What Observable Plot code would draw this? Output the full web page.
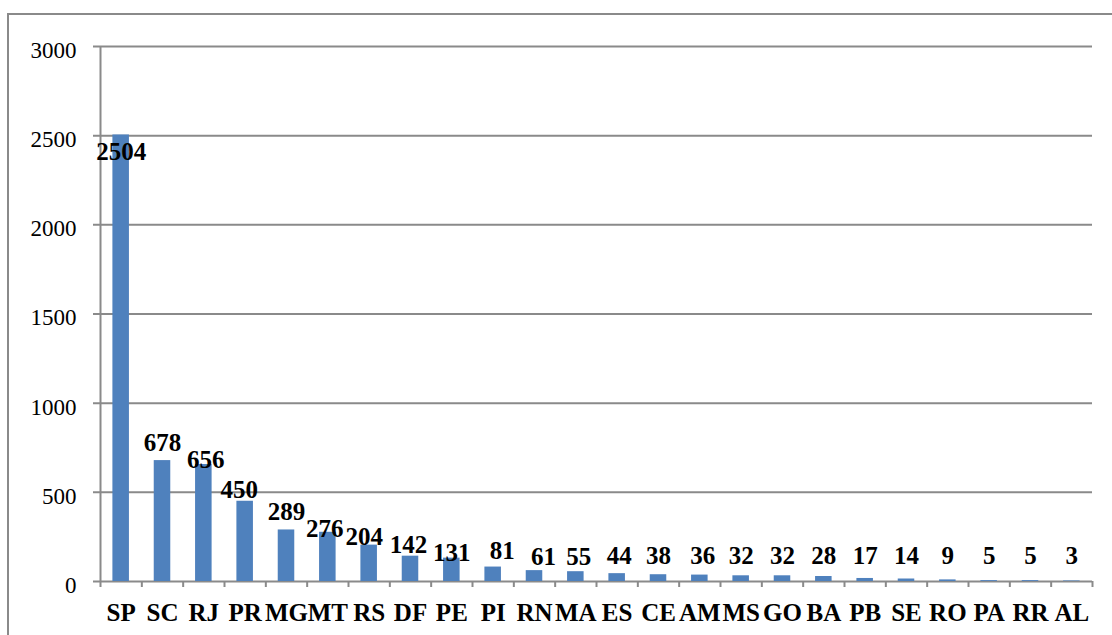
<!DOCTYPE html>
<html><head><meta charset="utf-8">
<script src="https://cdn.jsdelivr.net/npm/d3@7"></script>
<script src="https://cdn.jsdelivr.net/npm/@observablehq/plot@0.6"></script>
<style>
html,body{margin:0;padding:0;background:#fff;}
#wrap{position:relative;width:1112px;height:635px;overflow:hidden;}
#border{position:absolute;left:7px;top:13px;width:1200px;height:700px;border:2px solid #8a8a8a;box-sizing:border-box;}
#chart{position:absolute;left:0;top:0;}
#chart svg, #chart svg text{font-family:'Liberation Serif','Times New Roman',serif !important;}
</style></head><body>
<div id="wrap"><div id="border"></div><div id="chart"></div></div>
<script>
const states = ["SP","SC","RJ","PR","MG","MT","RS","DF","PE","PI","RN","MA","ES","CE","AM","MS","GO","BA","PB","SE","RO","PA","RR","AL"];
const counts = [2504,678,656,450,289,276,204,142,131,81,61,55,44,38,36,32,32,28,17,14,9,5,5,3];
const yTicks = [0,500,1000,1500,2000,2500,3000];
// label nudges (pixels) to mimic the reference's manual label placement
const labelDx = [0,0,2,-6,0,-3,-5,-2,0,9,9,3,2,0,3,0,0,0,0,0,0,0,0,0];
const labelDy = [17,-18,-5,-11,-18,-3,-8,-11,-5,-16,-14,-15,-17,-17,-17,-17,-17,-17,-17,-17,-17,-17,-17,-17];

const data = states.map((s, i) => ({state: s, count: counts[i], dx: labelDx[i], dy: labelDy[i]}));

const W = 1112, H = 635, ML = 100, MR = 20, MT = 46, MB = 54;
const step = (W - ML - MR) / states.length;
const gray = "#8a8a8a";
const serif = "'Liberation Serif', 'Times New Roman', serif";

const labelMarks = data.map(d => Plot.text([d], {
  x: "state", y: v => Math.max(v.count, 45), text: v => String(v.count),
  dx: d.dx, dy: d.dy, fontSize: 25, fontWeight: "bold", fontFamily: serif, fill: "#000"
}));

const chart = Plot.plot({
  width: W, height: H,
  marginLeft: ML, marginRight: MR, marginTop: MT, marginBottom: MB,
  style: {fontFamily: serif, background: "transparent", overflow: "visible"},
  x: {domain: states, paddingInner: 0.6, paddingOuter: 0.3, round: false, axis: null, label: null},
  y: {domain: [0, 3000], axis: null, label: null},
  marks: [
    Plot.gridY(yTicks, {stroke: gray, strokeOpacity: 1, strokeWidth: 2, insetLeft: -7}),
    Plot.barY(data, {x: "state", y: "count", fill: "#4F81BD"}),
    Plot.ruleX([states[0]], {x: d => d, dx: -step / 2, insetBottom: -6, stroke: gray, strokeWidth: 2}),
    Plot.ruleX(states.slice(1), {x: d => d, dx: -step / 2, insetTop: H - MT - MB, insetBottom: -6, stroke: gray, strokeWidth: 2}),
    Plot.ruleX([states[states.length - 1]], {x: d => d, dx: step / 2, insetTop: H - MT - MB, insetBottom: -6, stroke: gray, strokeWidth: 2}),
    Plot.axisY({ticks: yTicks, tickSize: 0, tickPadding: 24, fontSize: 23, fontFamily: serif, fill: "#000", dy: 4, label: null, tickFormat: d => String(d)}),
    Plot.axisX({tickSize: 0, tickPadding: 22, fontSize: 25, fontWeight: "bold", fontFamily: serif, fill: "#000", label: null}),
    ...labelMarks
  ]
});
document.getElementById("chart").appendChild(chart);
</script>
</body></html>
